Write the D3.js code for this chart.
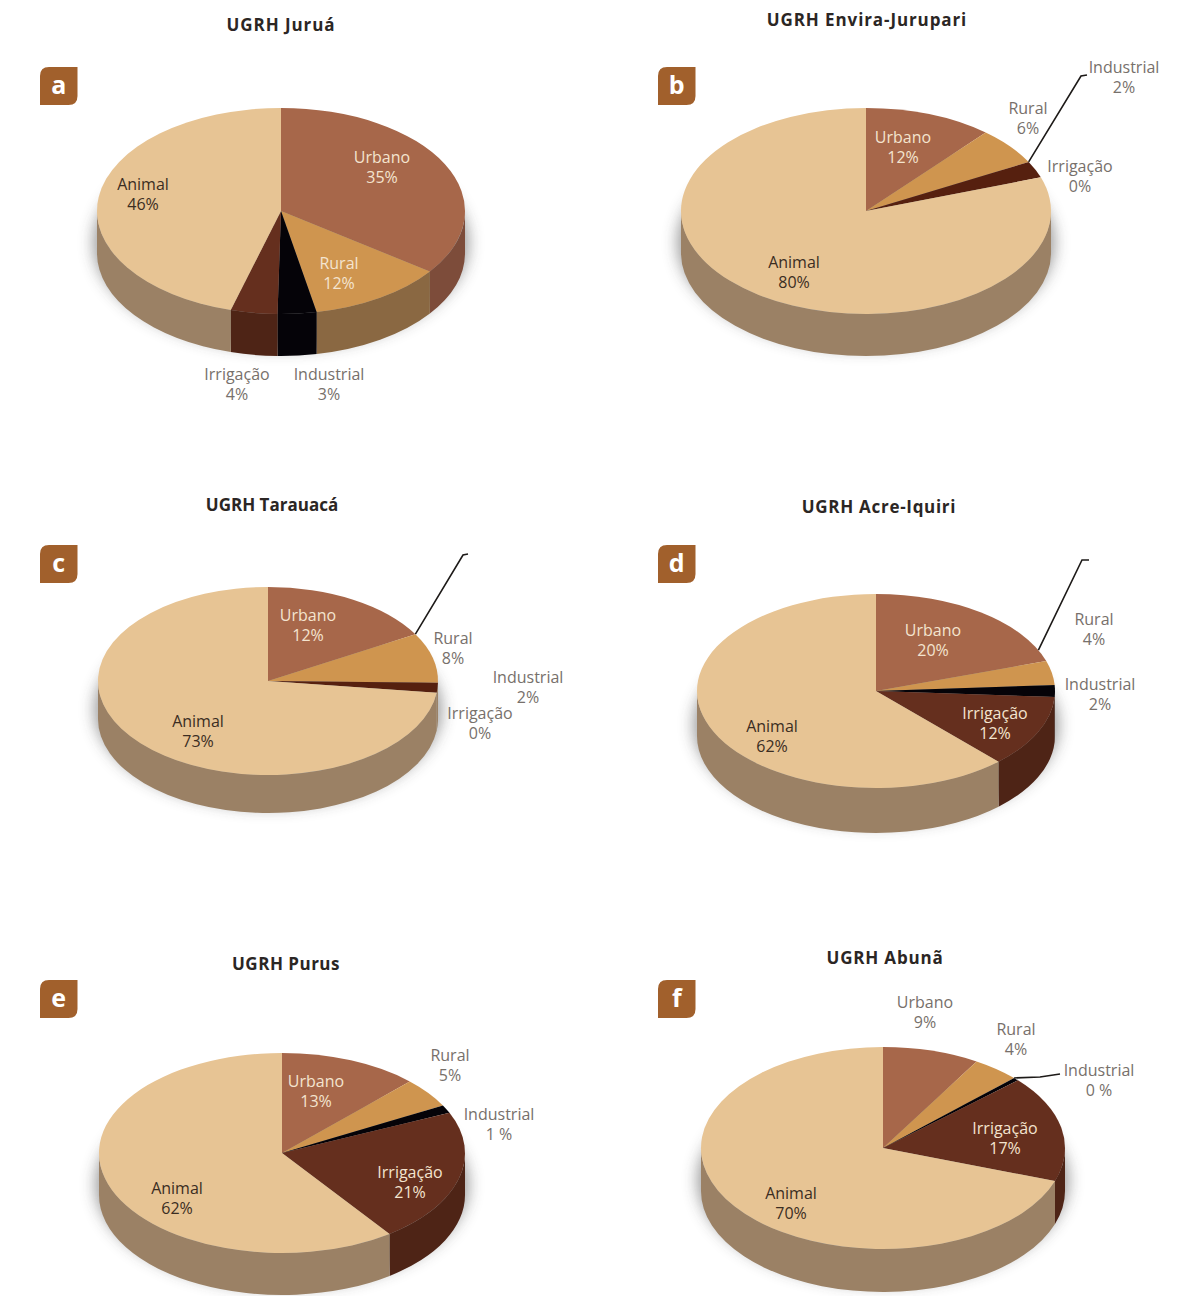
<!DOCTYPE html>
<html>
<head>
<meta charset="utf-8">
<script src="https://cdn.jsdelivr.net/npm/d3@7"></script>
<style>
	html, body { margin: 0; padding: 0; background: #fff; }
	text { font-family: "Open Sans", sans-serif; }
</style>
</head>
<body>
<div id="chart"></div>
<script>
// order of the slices, clockwise from the top of each pie
const categories = ["Urbano", "Rural", "Industrial", "Irrigação", "Animal"];
const panelLetters = ["a", "b", "c", "d", "e", "f"];
const panelTitles = ["UGRH Juruá", "UGRH Envira-Jurupari", "UGRH Tarauacá", "UGRH Acre-Iquiri", "UGRH Purus", "UGRH Abunã"];

// the percentages printed on the picture
const printedA = ["35%", "12%", "3%", "4%", "46%"];
const printedB = ["12%", "6%", "2%", "0%", "80%"];
const printedC = ["12%", "8%", "2%", "0%", "73%"];
const printedD = ["20%", "4%", "2%", "12%", "62%"];
const printedE = ["13%", "5%", "1 %", "21%", "62%"];
const printedF = ["9%", "4%", "0 %", "17%", "70%"];

const drawnA = [35, 11.9, 3.4, 4.1, 45.6];
const drawnB = [11.2, 5.9, 2.6, 0, 80.3];
const drawnC = [16.7, 8.6, 1.7, 0, 73];
const drawnD = [20, 4, 2, 12, 62];
const drawnE = [12.3, 4.8, 1.3, 21.6, 60];
const drawnF = [8.6, 4.2, 0.5, 17, 69.7];

const printed = [printedA, printedB, printedC, printedD, printedE, printedF];
const drawn = [drawnA, drawnB, drawnC, drawnD, drawnE, drawnF];

// layout, one entry per panel
const geometry = [
	{cx: 281, cy: 211, rx: 184, ry: 103, depth: 42, titleX: 281, titleY: 25, spacing: 0.9, badgeX: 40, badgeY: 67},
	{cx: 866, cy: 211, rx: 185, ry: 103, depth: 42, titleX: 867, titleY: 20, spacing: 0.9, badgeX: 658, badgeY: 67},
	{cx: 268, cy: 681, rx: 170, ry: 94, depth: 38, titleX: 272, titleY: 505, spacing: 0, badgeX: 40, badgeY: 545},
	{cx: 876, cy: 691, rx: 179, ry: 97, depth: 45, titleX: 879, titleY: 507, spacing: 0.7, badgeX: 658, badgeY: 545},
	{cx: 282, cy: 1153, rx: 183, ry: 100, depth: 42, titleX: 286, titleY: 964, spacing: 0.5, badgeX: 40, badgeY: 980},
	{cx: 883, cy: 1148, rx: 182, ry: 101, depth: 43, titleX: 885, titleY: 958, spacing: 0.8, badgeX: 658, badgeY: 980}
];
// label block centres, same order as categories
const labelSpots = [
	[[382, 167], [339, 273], [329, 384], [237, 384], [143, 194]],
	[[903, 147], [1028, 118], [1124, 77], [1080, 176], [794, 272]],
	[[308, 625], [453, 648], [528, 687], [480, 723], [198, 731]],
	[[933, 640], [1094, 629], [1100, 694], [995, 723], [772, 736]],
	[[316, 1091], [450, 1065], [499, 1124], [410, 1182], [177, 1198]],
	[[925, 1012], [1016, 1039], [1099, 1080], [1005, 1138], [791, 1203]]
];
// leader lines: slice whose first edge it starts from, then the bend and the end
const leaders = [
	null,
	{slice: 2, points: [[1081, 76], [1087, 75]]},
	{slice: 1, points: [[463, 555], [468, 554]]},
	{slice: 1, offset: -0.12, points: [[1082, 560], [1089, 560]]},
	null,
	{slice: 2, points: [[1040, 1077], [1060, 1074]]}
];

const topColors = {Urbano: "#a7674a", Rural: "#cf954f", Industrial: "#050308", "Irrigação": "#652f1e", Animal: "#e7c494"};
const sideColors = {Urbano: "#7d4c3a", Rural: "#8a6842", Industrial: "#050308", "Irrigação": "#4e2416", Animal: "#9b8165"};
// in b and c the small wedge is printed brown, not black, and its wall is not seen
const brownIndustrial = ["b", "c"];

const width = 1192, height = 1296;

const svg = d3.select("#chart").append("svg")
	.attr("width", width)
	.attr("height", height)
	.style("display", "block");

const blur = svg.append("defs").append("filter")
	.attr("id", "soft")
	.attr("x", "-20%").attr("y", "-30%")
	.attr("width", "140%").attr("height", "160%");
blur.append("feGaussianBlur").attr("stdDeviation", 8);

const pie = d3.pie().sort(null).value(d => d.value);

// rim point for an angle measured clockwise from the top
const rim = (g, a) => [g.cx + g.rx * Math.sin(a), g.cy - g.ry * Math.cos(a)];

// outer wall of a slice, only the part facing the viewer
const wallPath = (g, a0, a1) => {
	const from = Math.max(a0, Math.PI / 2), to = Math.min(a1, Math.PI * 1.5);
	if (to <= from) return null;
	const p0 = rim(g, from), p1 = rim(g, to);
	return `M${p0[0]},${p0[1]}A${g.rx},${g.ry} 0 0 1 ${p1[0]},${p1[1]}` +
		`L${p1[0]},${p1[1] + g.depth}A${g.rx},${g.ry} 0 0 0 ${p0[0]},${p0[1] + g.depth}Z`;
};

const drawPanel = (i) => {
	const g = geometry[i], letter = panelLetters[i];
	const isBrown = brownIndustrial.includes(letter);
	const rows = categories.map((name, k) => ({name: name, value: drawn[i][k], label: printed[i][k], spot: labelSpots[i][k]}));
	const slices = pie(rows);
	const panel = svg.append("g").attr("class", `panel-${letter}`);

	// soft shadow under the disc
	panel.append("ellipse")
		.attr("cx", g.cx)
		.attr("cy", g.cy + g.depth * 0.75)
		.attr("rx", g.rx + 3)
		.attr("ry", g.ry + 3)
		.attr("fill", "#3a3a3a")
		.attr("opacity", 0.55)
		.attr("filter", "url(#soft)");

	panel.append("g").selectAll("path")
		.data(slices.filter(d => d.endAngle > d.startAngle))
		.enter()
		.append("path")
		.attr("d", d => wallPath(g, d.startAngle, d.endAngle))
		.attr("fill", d => d.data.name === "Industrial" && isBrown ? sideColors.Animal : sideColors[d.data.name]);

	const arc = d3.arc().innerRadius(0).outerRadius(g.rx);
	panel.append("g")
		.attr("transform", `translate(${g.cx},${g.cy}) scale(1,${g.ry / g.rx})`)
		.selectAll("path")
		.data(slices)
		.enter()
		.append("path")
		.attr("d", arc)
		.attr("fill", d => d.data.name === "Industrial" && isBrown ? "#56200f" : topColors[d.data.name]);

	const leader = leaders[i];
	if (leader) {
		const start = rim(g, slices[leader.slice].startAngle + (leader.offset || 0));
		panel.append("path")
			.attr("d", d3.line()([start, ...leader.points]))
			.attr("fill", "none")
			.attr("stroke", "#1d1a18")
			.attr("stroke-width", 1.6);
	}

	const labels = panel.append("g").selectAll("text")
		.data(rows)
		.enter()
		.append("text")
		.attr("text-anchor", "middle")
		.attr("font-size", 16)
		.attr("fill", d => {
			const inside = ((d.spot[0] - g.cx) / g.rx) ** 2 + ((d.spot[1] - g.cy) / g.ry) ** 2 < 1;
			if (!inside) return "#77706b";
			return d.name === "Animal" ? "#3b2d22" : "#f4e4cf";
		});
	labels.append("tspan")
		.attr("x", d => d.spot[0])
		.attr("y", d => d.spot[1] - 4)
		.text(d => d.name);
	labels.append("tspan")
		.attr("x", d => d.spot[0])
		.attr("y", d => d.spot[1] + 16)
		.text(d => d.label);

	panel.append("text")
		.attr("x", g.titleX)
		.attr("y", g.titleY + 6)
		.attr("text-anchor", "middle")
		.attr("font-size", 17)
		.attr("font-weight", 700)
		.attr("letter-spacing", g.spacing)
		.attr("fill", "#2b2624")
		.text(panelTitles[i]);

	// letter tag, top right and bottom left corners stay square
	const s = 37.5, b = 38, r = 9, x = g.badgeX, y = g.badgeY;
	panel.append("path")
		.attr("d", `M${x + r},${y}H${x + s}V${y + b - r}Q${x + s},${y + b} ${x + s - r},${y + b}H${x}V${y + r}Q${x},${y} ${x + r},${y}Z`)
		.attr("fill", "#a1602c");
	panel.append("text")
		.attr("x", x + s / 2)
		.attr("y", y + 27)
		.attr("text-anchor", "middle")
		.attr("font-size", 25)
		.attr("font-weight", 700)
		.attr("fill", "#fff")
		.text(letter);
};

d3.range(panelLetters.length).forEach(drawPanel);
</script>
</body>
</html>
